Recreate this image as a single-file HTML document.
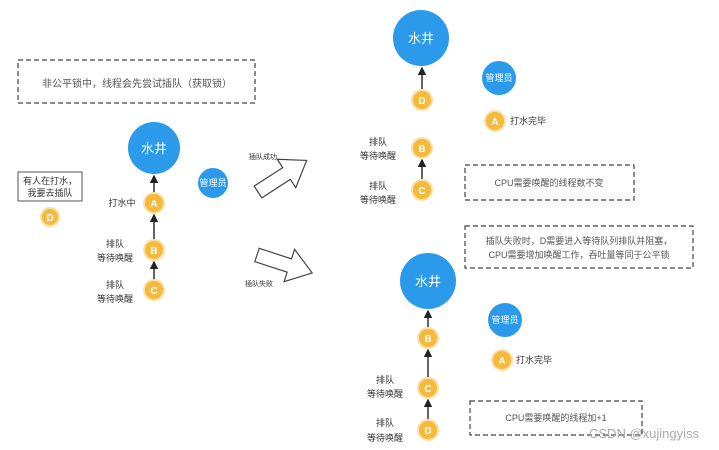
<!DOCTYPE html>
<html><head><meta charset="utf-8"><style>
html,body{margin:0;padding:0;background:#fff;}
svg{display:block;font-family:"Liberation Sans","Noto Sans CJK SC",sans-serif;}
</style></head><body>
<svg width="719" height="450" viewBox="0 0 719 450" xmlns="http://www.w3.org/2000/svg">
<defs>
<marker id="ah" markerWidth="6" markerHeight="6" refX="5" refY="3" orient="auto"><path d="M0,0 L6,3 L0,6 Z" fill="#222"/></marker>
<g id="arr"><polygon points="0,-7 34,-7 34,-17 58,0 34,17 34,7 0,7" fill="#fff" stroke="#444" stroke-width="1.2"/></g>
</defs>
<g font-size="9" fill="#333">
<!-- left -->
<rect x="18" y="60" width="237" height="43" fill="none" stroke="#444" stroke-dasharray="5,3" stroke-width="1.2"/>
<text x="137" y="87" text-anchor="middle" fill="#555" font-size="10">非公平锁中，线程会先尝试插队（获取锁）</text>
<rect x="18" y="172" width="64" height="29" fill="none" stroke="#555" stroke-width="1"/>
<text x="50" y="184" text-anchor="middle">有人在打水，</text>
<text x="50" y="196" text-anchor="middle">我要去插队</text>
<circle cx="50" cy="217" r="9" fill="#f5b93c" stroke="#fbe0a8" stroke-width="2"/><text x="50" y="221" text-anchor="middle" fill="#fff" font-size="10" font-weight="bold">D</text>
<line x1="154" y1="193" x2="154" y2="176" stroke="#222" stroke-width="1.4" marker-end="url(#ah)"/>
<line x1="154" y1="240" x2="154" y2="215" stroke="#222" stroke-width="1.4" marker-end="url(#ah)"/>
<line x1="154" y1="280" x2="154" y2="262" stroke="#222" stroke-width="1.4" marker-end="url(#ah)"/>
<circle cx="154" cy="148" r="26" fill="#2b9aea"/><text x="154" y="153" text-anchor="middle" fill="#fff" font-size="13">水井</text>
<circle cx="213" cy="183" r="15" fill="#2b9aea"/><text x="213" y="186" text-anchor="middle" fill="#fff" font-size="9">管理员</text>
<circle cx="154" cy="203" r="10" fill="#f5b93c" stroke="#fbe0a8" stroke-width="2"/><text x="154" y="207" text-anchor="middle" fill="#fff" font-size="10" font-weight="bold">A</text>
<circle cx="154" cy="250" r="10" fill="#f5b93c" stroke="#fbe0a8" stroke-width="2"/><text x="154" y="254" text-anchor="middle" fill="#fff" font-size="10" font-weight="bold">B</text>
<circle cx="154" cy="290" r="10" fill="#f5b93c" stroke="#fbe0a8" stroke-width="2"/><text x="154" y="294" text-anchor="middle" fill="#fff" font-size="10" font-weight="bold">C</text>
<text x="122" y="206" text-anchor="middle">打水中</text>
<text x="115" y="247" text-anchor="middle">排队</text><text x="115" y="261" text-anchor="middle">等待唤醒</text>
<text x="115" y="288" text-anchor="middle">排队</text><text x="115" y="302" text-anchor="middle">等待唤醒</text>
<use href="#arr" transform="translate(258,192) rotate(-33)"/>
<use href="#arr" transform="translate(257,255) rotate(18)"/>
<text x="263" y="159" text-anchor="middle" font-size="7">插队成功</text>
<text x="259" y="286" text-anchor="middle" font-size="7">插队失败</text>
<!-- top right -->
<line x1="422" y1="90" x2="422" y2="68" stroke="#222" stroke-width="1.4" marker-end="url(#ah)"/>
<line x1="422" y1="180" x2="422" y2="160" stroke="#222" stroke-width="1.4" marker-end="url(#ah)"/>
<circle cx="421" cy="38" r="28" fill="#2b9aea"/><text x="421" y="43" text-anchor="middle" fill="#fff" font-size="13">水井</text>
<circle cx="499" cy="78" r="17" fill="#2b9aea"/><text x="499" y="81" text-anchor="middle" fill="#fff" font-size="9">管理员</text>
<circle cx="422" cy="100" r="10" fill="#f5b93c" stroke="#fbe0a8" stroke-width="2"/><text x="422" y="104" text-anchor="middle" fill="#fff" font-size="10" font-weight="bold">D</text>
<circle cx="495" cy="121" r="10" fill="#f5b93c" stroke="#fbe0a8" stroke-width="2"/><text x="495" y="125" text-anchor="middle" fill="#fff" font-size="10" font-weight="bold">A</text>
<text x="510" y="124">打水完毕</text>
<circle cx="422" cy="148" r="10" fill="#f5b93c" stroke="#fbe0a8" stroke-width="2"/><text x="422" y="152" text-anchor="middle" fill="#fff" font-size="10" font-weight="bold">B</text>
<circle cx="422" cy="190" r="10" fill="#f5b93c" stroke="#fbe0a8" stroke-width="2"/><text x="422" y="194" text-anchor="middle" fill="#fff" font-size="10" font-weight="bold">C</text>
<text x="378" y="145" text-anchor="middle">排队</text><text x="378" y="159" text-anchor="middle">等待唤醒</text>
<text x="378" y="189" text-anchor="middle">排队</text><text x="378" y="203" text-anchor="middle">等待唤醒</text>
<rect x="465" y="165" width="169" height="35" fill="none" stroke="#444" stroke-dasharray="5,3" stroke-width="1.2"/>
<text x="549" y="186" text-anchor="middle" fill="#555">CPU需要唤醒的线程数不变</text>
<!-- bottom right -->
<rect x="465" y="226" width="228" height="42" fill="none" stroke="#444" stroke-dasharray="5,3" stroke-width="1.2"/>
<text x="579" y="244" text-anchor="middle" fill="#555">插队失败时，D需要进入等待队列排队并阻塞，</text>
<text x="579" y="258" text-anchor="middle" fill="#555">CPU需要增加唤醒工作，吞吐量等同于公平锁</text>
<line x1="428" y1="328" x2="428" y2="311" stroke="#222" stroke-width="1.4" marker-end="url(#ah)"/>
<line x1="428" y1="378" x2="428" y2="350" stroke="#222" stroke-width="1.4" marker-end="url(#ah)"/>
<line x1="428" y1="420" x2="428" y2="400" stroke="#222" stroke-width="1.4" marker-end="url(#ah)"/>
<circle cx="428" cy="281" r="28" fill="#2b9aea"/><text x="428" y="286" text-anchor="middle" fill="#fff" font-size="13">水井</text>
<circle cx="505" cy="320" r="17" fill="#2b9aea"/><text x="505" y="323" text-anchor="middle" fill="#fff" font-size="9">管理员</text>
<circle cx="428" cy="338" r="10" fill="#f5b93c" stroke="#fbe0a8" stroke-width="2"/><text x="428" y="342" text-anchor="middle" fill="#fff" font-size="10" font-weight="bold">B</text>
<circle cx="502" cy="360" r="10" fill="#f5b93c" stroke="#fbe0a8" stroke-width="2"/><text x="502" y="364" text-anchor="middle" fill="#fff" font-size="10" font-weight="bold">A</text>
<text x="516" y="363">打水完毕</text>
<circle cx="428" cy="388" r="10" fill="#f5b93c" stroke="#fbe0a8" stroke-width="2"/><text x="428" y="392" text-anchor="middle" fill="#fff" font-size="10" font-weight="bold">C</text>
<circle cx="428" cy="430" r="10" fill="#f5b93c" stroke="#fbe0a8" stroke-width="2"/><text x="428" y="434" text-anchor="middle" fill="#fff" font-size="10" font-weight="bold">D</text>
<text x="385" y="383" text-anchor="middle">排队</text><text x="385" y="397" text-anchor="middle">等待唤醒</text>
<text x="385" y="426" text-anchor="middle">排队</text><text x="385" y="441" text-anchor="middle">等待唤醒</text>
<rect x="470" y="401" width="172" height="34" fill="none" stroke="#444" stroke-dasharray="5,3" stroke-width="1.2"/>
<text x="556" y="421" text-anchor="middle" fill="#555">CPU需要唤醒的线程加+1</text>
<text x="644" y="438" text-anchor="middle" font-size="13" fill="#aaa">CSDN @xujingyiss</text>
</g>
</svg>
</body></html>
